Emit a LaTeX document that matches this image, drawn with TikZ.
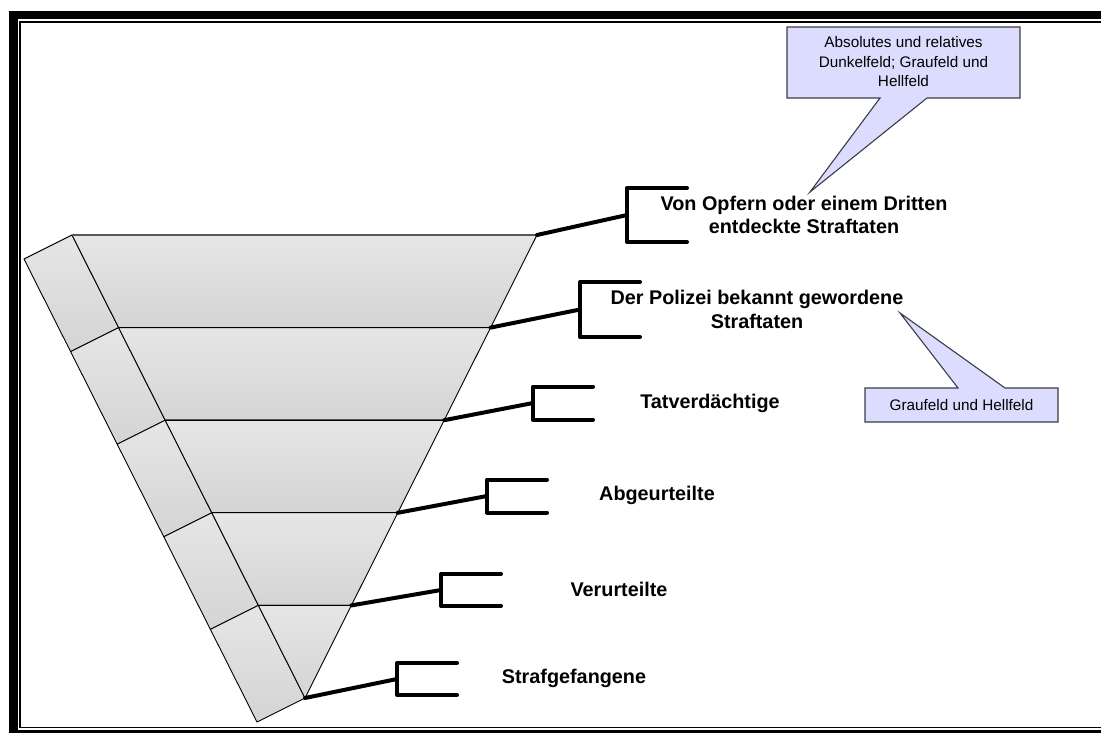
\documentclass[tikz,border=0pt]{standalone}
\usepackage{fontspec}
\setmainfont{Liberation Sans}
\usetikzlibrary{calc}
\definecolor{facetop}{HTML}{E6E6E6}
\definecolor{facebot}{HTML}{D4D4D4}
\definecolor{callfill}{HTML}{DCDCFE}
\definecolor{callline}{HTML}{3C3C48}
\tikzset{
  rowface/.style={top color=facetop, bottom color=facebot, draw=black, line width=0.9pt, line join=round},
  sepline/.style={draw=black, line width=1.3pt},
  connector/.style={line width=4pt, line cap=round},
  bracketline/.style={line width=4pt, line cap=round, line join=round},
  stagelabel/.style={font=\bfseries\fontsize{19.8}{23.5}\selectfont, align=center, inner sep=0pt},
  callout/.style={fill=callfill, draw=callline, line width=1.1pt, line join=miter},
  callouttext/.style={font=\fontsize{15.3}{19.5}\selectfont, align=center, inner sep=0pt},
}
\begin{document}
\begin{tikzpicture}[x=1pt, y=-1pt]
\useasboundingbox (0,0) rectangle (1101,733);
\fill[white] (0,0) rectangle (1101,733);

% double frame: heavy outer band, thin inner rule
\fill[black] (9,11) rectangle (17.5,733);
\fill[black] (9,11) rectangle (1101,19);
\fill[black] (9,730) rectangle (1101,733);
\draw[line width=1.5pt] (1101,22) -- (20,22) -- (20,727.5) -- (1101,727.5);

% funnel corners
\coordinate (TL) at (72,235);
\coordinate (TR) at (537,235);
\coordinate (A) at (305,698);
\foreach \k in {0,...,4} {
  \coordinate (L\k) at ($(TL)!\k/5!(A)$);
  \coordinate (R\k) at ($(TR)!\k/5!(A)$);
}
\coordinate (L5) at (A);
\coordinate (R5) at (A);
\foreach \k in {0,...,5} {
  \coordinate (S\k) at ($(L\k)+(-48,24)$);
}

% side face segments
\foreach \k [evaluate=\k as \n using int(\k+1)] in {0,...,4} {
  \shade[rowface] (L\k) -- (L\n) -- (S\n) -- (S\k) -- cycle;
}
% front face rows
\foreach \k [evaluate=\k as \n using int(\k+1)] in {0,...,3} {
  \shade[rowface] (L\k) -- (R\k) -- (R\n) -- (L\n) -- cycle;
}
\shade[rowface] (L4) -- (R4) -- (A) -- cycle;
\foreach \k in {1,...,4} { \draw[sepline] (L\k) -- (R\k); }
\draw[draw=black!65, line width=1.6pt] (L0) -- (R0);

% brackets
\foreach \k/\bx/\by/\h in {0/627/215/27, 1/580/309.5/27.5, 2/533/403/16.5, 3/487/496/16.5, 4/441/590/16, 5/397/679/16} {
  \coordinate (B\k) at (\bx,\by);
  \draw[bracketline] (\bx+60,\by-\h) -- (\bx,\by-\h) -- (\bx,\by+\h) -- (\bx+60,\by+\h);
  \draw[connector] (R\k) -- (B\k);
}

% stage labels
\node[stagelabel] (lab0) at (804,215) {Von Opfern oder einem Dritten\\entdeckte Straftaten};
\node[stagelabel] (lab1) at (757,309.5) {Der Polizei bekannt gewordene\\Straftaten};
\node[stagelabel] (lab2) at (710,403) {Tatverdächtige};
\node[stagelabel] (lab3) at (657,495) {Abgeurteilte};
\node[stagelabel] (lab4) at (619,589) {Verurteilte};
\node[stagelabel] (lab5) at (574,678) {Strafgefangene};

% callouts
\coordinate (tipA) at (810,192);
\coordinate (tipB) at (900,313);
\draw[callout] (787,27) -- (1020,27) -- (1020,98) -- (927,98) -- (tipA) -- (880,98) -- (787,98) -- cycle;
\node[callouttext] (noteA) at (903.5,62) {Absolutes und relatives\\Dunkelfeld; Graufeld und\\Hellfeld};
\draw[callout] (865,388) -- (958,388) -- (tipB) -- (1005,388) -- (1058,388) -- (1058,422) -- (865,422) -- cycle;
\node[callouttext] (noteB) at (961.5,405) {Graufeld und Hellfeld};
\end{tikzpicture}
\end{document}
